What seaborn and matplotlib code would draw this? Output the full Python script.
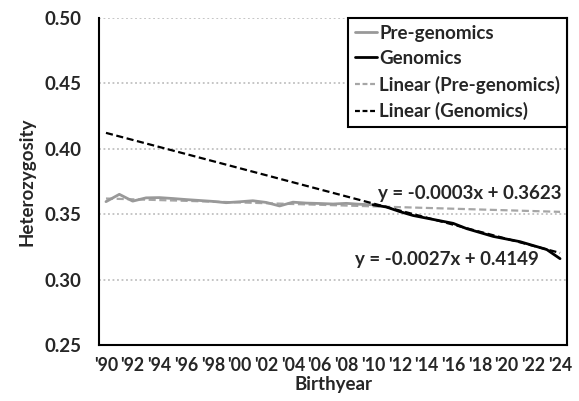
import numpy as np
import pandas as pd
import matplotlib
matplotlib.use("Agg")
import matplotlib.pyplot as plt
import seaborn as sns
from matplotlib.lines import Line2D

# ---- data ----
years_pre = list(range(1990, 2011))
het_pre = [0.3596, 0.3652, 0.3600, 0.3625, 0.3627, 0.3620, 0.3612, 0.3605, 0.3598, 0.3588,
           0.3595, 0.3603, 0.3590, 0.3563, 0.3592, 0.3585, 0.3582, 0.3578, 0.3583, 0.3576, 0.3572]
years_gen = list(range(2010, 2025))
het_gen = [0.3572, 0.3555, 0.3520, 0.3490, 0.3470, 0.3450, 0.3430, 0.3390, 0.3360, 0.3330,
           0.3310, 0.3290, 0.3260, 0.3230, 0.3160]
all_years = list(range(1990, 2025))
tick_labels = ["'" + str(y)[2:] for y in all_years[::2]]
trend_pre = (-0.0003, 0.3623)
trend_gen = (-0.0027, 0.4149)
eq_pre = "y = -0.0003x + 0.3623"
eq_gen = "y = -0.0027x + 0.4149"

sns.set_theme(style="white")
plt.rcParams['font.family'] = ['Lato', 'DejaVu Sans']
plt.rcParams['font.weight'] = 'bold'
FS = 13.5

fig = plt.figure(figsize=(5.79, 4.01), dpi=100)
ax = fig.add_axes([0.1715, 0.1397, 0.8073, 0.8153])

idx_pre = [all_years.index(y) + 1 for y in years_pre]
idx_gen = [all_years.index(y) + 1 for y in years_gen]
df_pre = pd.DataFrame({"x": idx_pre, "y": het_pre})
df_gen = pd.DataFrame({"x": idx_gen, "y": het_gen})
xi = np.arange(1, len(all_years) + 1)
df_tp = pd.DataFrame({"x": xi, "y": trend_pre[0] * xi + trend_pre[1]})
df_tg = pd.DataFrame({"x": xi, "y": trend_gen[0] * xi + trend_gen[1]})

gray = "#999999"
dash = (0, (3.2, 1.6))
sns.lineplot(data=df_tp, x="x", y="y", ax=ax, color="#a6a6a6", lw=1.6, linestyle=dash, zorder=3)
sns.lineplot(data=df_pre, x="x", y="y", ax=ax, color=gray, lw=2.0, zorder=4)
sns.lineplot(data=df_gen, x="x", y="y", ax=ax, color="black", lw=2.0, zorder=4)
sns.lineplot(data=df_tg, x="x", y="y", ax=ax, color="black", lw=1.6, linestyle=dash, zorder=5)

ax.set_xlim(0.5, len(all_years) + 0.5)
ax.set_ylim(0.25, 0.50)
yt = [0.25, 0.30, 0.35, 0.40, 0.45, 0.50]
ax.set_yticks(yt)
ax.set_yticklabels([f"{v:.2f}" for v in yt])
ax.set_xticks(xi[::2])
ax.set_xticklabels(tick_labels)
ax.set_xticks(np.arange(0.5, len(all_years) + 1, 1.0), minor=True)
ax.tick_params(axis='x', which='major', length=0, pad=9, labelsize=12.8)
ax.tick_params(axis='x', which='minor', length=5, width=1.5, color='black', direction='out')
ax.tick_params(axis='y', which='major', length=5, width=1.5, color='black', direction='out',
               labelsize=FS, pad=8)
ax.set_ylabel("Heterozygosity", fontsize=FS, fontweight='bold', labelpad=6)
ax.set_xlabel("Birthyear", fontsize=FS, fontweight='bold', labelpad=1)

for yv in [0.30, 0.35, 0.40, 0.45, 0.50]:
    ax.axhline(yv, color="#c0c0c0", lw=1.3, linestyle=(0, (1, 1.5)), zorder=1)

for s in ['left', 'bottom', 'right']:
    ax.spines[s].set_visible(True)
    ax.spines[s].set_color('black')
    ax.spines[s].set_linewidth(1.5)
ax.spines['top'].set_visible(False)

handles = [
    Line2D([], [], color=gray, lw=2.0),
    Line2D([], [], color="black", lw=2.0),
    Line2D([], [], color="#a6a6a6", lw=1.6, linestyle=(0, (2.2, 1.2))),
    Line2D([], [], color="black", lw=1.6, linestyle=(0, (2.2, 1.2))),
]
labels = ["Pre-genomics", "Genomics", "Linear (Pre-genomics)", "Linear (Genomics)"]
leg = ax.legend(handles, labels, loc="upper right", bbox_to_anchor=(1.0, 1.0),
                fontsize=FS, frameon=True, fancybox=False, handlelength=1.2,
                handletextpad=0.1, borderpad=0.35, labelspacing=0.45, borderaxespad=0)
leg.get_frame().set_edgecolor('black')
leg.get_frame().set_linewidth(1.5)
leg.get_frame().set_alpha(1)

ax.text(0.792, 0.464, eq_pre, transform=ax.transAxes, ha='center', va='center',
        fontsize=FS, fontweight='bold')
ax.text(0.743, 0.26, eq_gen, transform=ax.transAxes, ha='center', va='center',
        fontsize=FS, fontweight='bold')

fig.savefig("out.png", dpi=100)
